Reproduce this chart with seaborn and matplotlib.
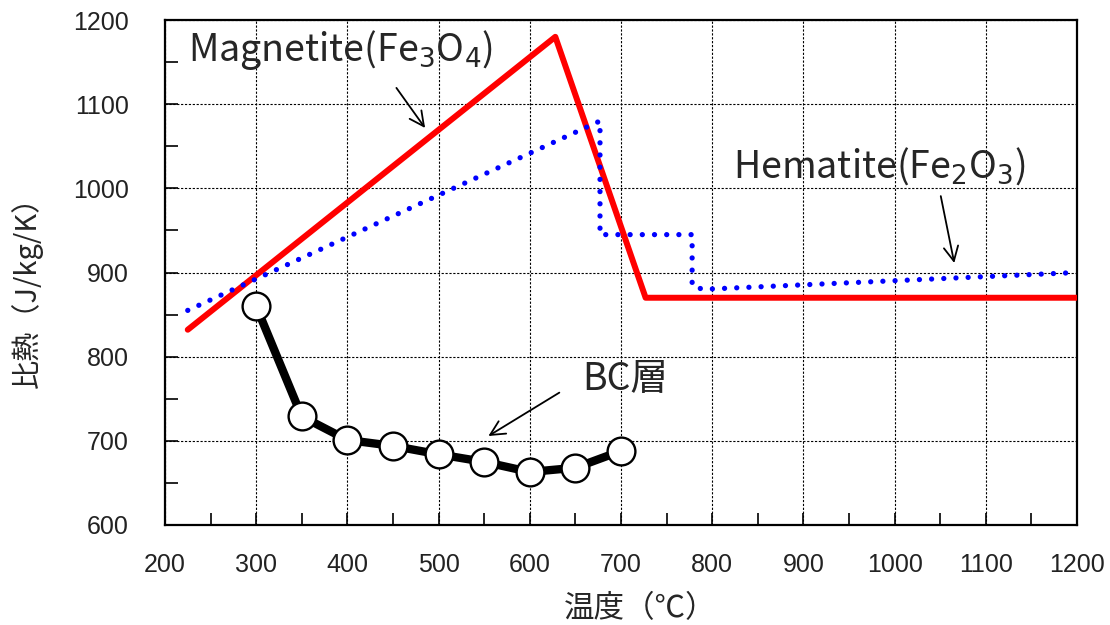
import matplotlib
matplotlib.use("Agg")
import matplotlib.pyplot as plt
from matplotlib.ticker import MultipleLocator
import seaborn as sns
import pandas as pd

# Magnetite (Fe3O4) specific heat
mag_temp = [225, 628, 727, 1200]
mag_cp = [832, 1180, 870, 870]

# Hematite (Fe2O3) specific heat
hem_temp = [225, 677, 677, 778, 778, 790, 1200]
hem_cp = [855, 1080, 945, 945, 884, 880, 900]

# Measured BC layer
bc_temp = [300, 350, 400, 450, 500, 550, 600, 650, 700]
bc_cp = [860, 729, 701, 694, 684, 675, 663, 668, 688]

x_ticks = [200, 300, 400, 500, 600, 700, 800, 900, 1000, 1100, 1200]
y_ticks = [600, 700, 800, 900, 1000, 1100, 1200]

sns.set_style("ticks")
plt.rcParams["font.family"] = ["Noto Sans CJK JP", "DejaVu Sans"]

fig = plt.figure(figsize=(11.1, 6.25), dpi=100)
ax = fig.add_axes([0.1486, 0.16, 0.8217, 0.808])

mag = pd.DataFrame({"t": mag_temp, "cp": mag_cp})
hem = pd.DataFrame({"t": hem_temp, "cp": hem_cp})
bc = pd.DataFrame({"t": bc_temp, "cp": bc_cp})

sns.lineplot(data=mag, x="t", y="cp", ax=ax, color="#ff0000", lw=4.3,
             sort=False, estimator=None, zorder=3)
sns.lineplot(data=hem, x="t", y="cp", ax=ax, color="#0000ff", lw=3.8,
             sort=False, estimator=None, zorder=4, dashes=False)
ax.lines[-1].set_dashes((0.01, 2.3))
ax.lines[-1].set_dash_capstyle("round")
sns.lineplot(data=bc, x="t", y="cp", ax=ax, color="black", lw=6,
             sort=False, estimator=None, marker="o", markersize=20,
             markerfacecolor="white", markeredgecolor="black",
             markeredgewidth=1.7, zorder=5)

ax.set_xlim(200, 1200)
ax.set_ylim(600, 1200)
ax.set_xticks(x_ticks)
ax.set_yticks(y_ticks)
ax.xaxis.set_minor_locator(MultipleLocator(50))
ax.yaxis.set_minor_locator(MultipleLocator(50))
ax.tick_params(which="both", direction="in", color="black", width=1.2, length=9)
ax.tick_params(axis="x", which="major", pad=20, labelsize=18)
ax.tick_params(axis="y", which="major", pad=26, labelsize=18)
for lab in ax.get_xticklabels():
    lab.set_family(["Liberation Sans Narrow", "Liberation Sans", "DejaVu Sans"])
    lab.set_color("#222222")
for lab in ax.get_yticklabels():
    lab.set_family(["Liberation Sans", "DejaVu Sans"])
    lab.set_color("#222222")

ax.grid(True, which="major", color="black", linestyle=(0, (2, 1.5)), lw=0.8)
for s in ax.spines.values():
    s.set_color("black")
    s.set_linewidth(1.6)

ax.set_xlabel("温度（℃）", fontsize=22)
ax.set_ylabel("比熱（J/kg/K）", fontsize=21)
ax.xaxis.set_label_coords(0.521, -0.165)
ax.yaxis.set_label_coords(-0.151, 0.475)
ax.xaxis.label.set_va("center")
ax.yaxis.label.set_va("center")

ax.text(225, 1164, "Magnetite(Fe$_3$O$_4$)", fontsize=27, va="center", ha="left", zorder=6)
ax.annotate("", xy=(487, 1069), xytext=(452, 1122),
            arrowprops=dict(arrowstyle="->", color="black", lw=1.3,
                            mutation_scale=26), zorder=6)

ax.text(823, 1026, "Hematite(Fe$_2$O$_3$)", fontsize=27, va="center", ha="left", zorder=6)
ax.annotate("", xy=(1066, 908), xytext=(1050, 994),
            arrowprops=dict(arrowstyle="->", color="black", lw=1.3,
                            mutation_scale=26), zorder=6)

ax.text(658, 773, "BC層", fontsize=27, va="center", ha="left", zorder=6)
ax.annotate("", xy=(552, 704), xytext=(635, 759),
            arrowprops=dict(arrowstyle="->", color="black", lw=1.3,
                            mutation_scale=26), zorder=6)

fig.savefig("out.png", dpi=100)
